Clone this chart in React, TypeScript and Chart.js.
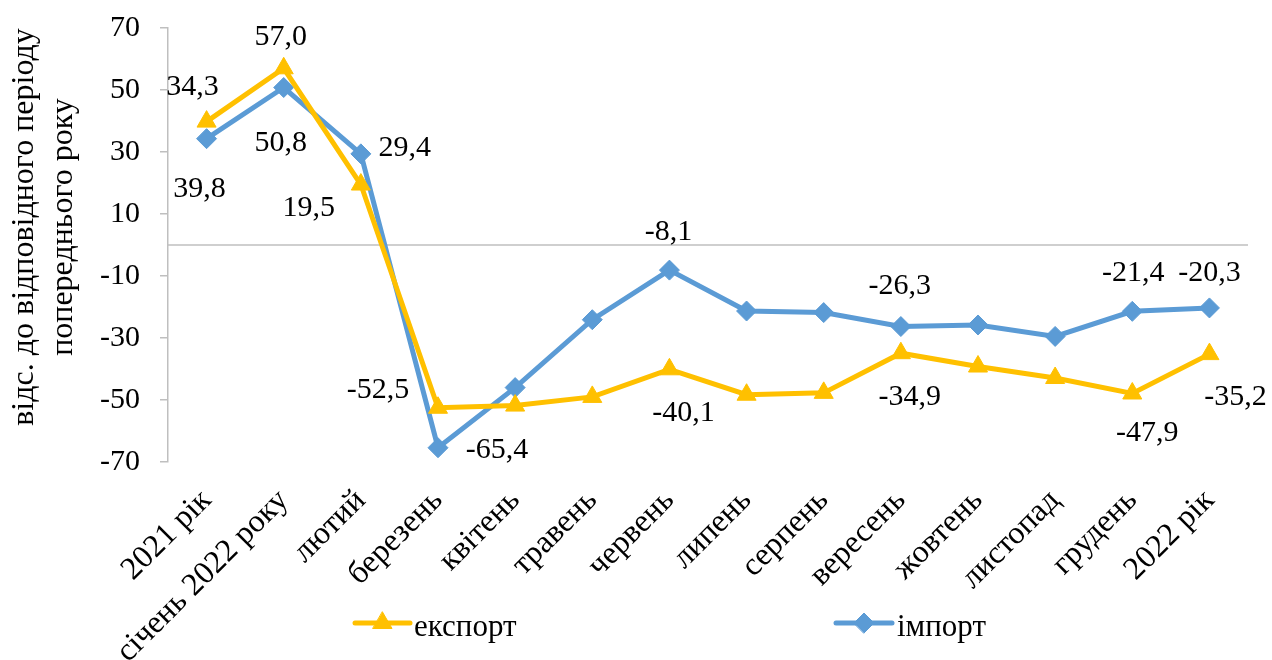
import React, { useEffect, useRef } from "react";
import { Chart, registerables } from "chart.js";
import { drawPoint } from "chart.js/helpers";

Chart.register(...registerables);

// ---- data ----
const categories = [
  "2021 рік",
  "січень 2022 року",
  "лютий",
  "березень",
  "квітень",
  "травень",
  "червень",
  "липень",
  "серпень",
  "вересень",
  "жовтень",
  "листопад",
  "грудень",
  "2022 рік",
];
const exportValues = [39.8, 57.0, 19.5, -52.5, -51.8, -49.0, -40.1, -48.3, -47.7, -34.9, -39.2, -42.9, -47.9, -35.2];
const importValues = [34.3, 50.8, 29.4, -65.4, -46.0, -24.1, -8.1, -21.3, -21.8, -26.3, -25.8, -29.5, -21.4, -20.3];
const yTickValues = [-70, -50, -30, -10, 10, 30, 50, 70];
const yAxisTitle = ["відс. до відповідного періоду", "попереднього року"];
const seriesNames = ["експорт", "імпорт"];
const labeledIndices = [0, 1, 2, 3, 6, 9, 12, 13];

// ---- styling / label placement (offsets from the point, px) ----
const exportLabelOffsets: Record<number, [number, number]> = {
  0: [-7, 68],
  1: [-3, -31],
  2: [-52, 24],
  3: [-60, -18],
  6: [14, 44],
  9: [9, 44],
  12: [15, 40],
  13: [26, 43],
};
const importLabelOffsets: Record<number, [number, number]> = {
  0: [-14, -52],
  1: [-3, 56],
  2: [44, -6],
  3: [59, 2],
  6: [-1, -38],
  9: [-1, -40],
  12: [1, -38],
  13: [0, -35],
};

const FONT = '"Liberation Serif", "Times New Roman", serif';
const TICK_SIZE = 30;
const LABEL_SIZE = 30;
const CAT_SIZE = 32;
const TITLE_SIZE = 32;
const LEGEND_SIZE = 31;
const YELLOW = "#FFC000";
const BLUE = "#5B9BD5";
const GRAY = "#BFBFBF";

const fmt = (v: number) => v.toFixed(1).replace(".", ",");

const customPlugin = {
  id: "custom",
  beforeDatasetsDraw(chart: any) {
    const { ctx, chartArea, scales } = chart;
    const y0 = scales.y.getPixelForValue(0);
    ctx.save();
    ctx.strokeStyle = GRAY;
    ctx.lineWidth = 1.5;
    ctx.beginPath();
    ctx.moveTo(chartArea.left, y0);
    ctx.lineTo(chartArea.right, y0);
    ctx.stroke();
    ctx.restore();
  },
  afterDraw(chart: any) {
    const { ctx, scales } = chart;
    ctx.save();
    ctx.fillStyle = "#000";

    // data labels
    ctx.font = `${LABEL_SIZE}px ${FONT}`;
    ctx.textAlign = "center";
    ctx.textBaseline = "middle";
    const sets: [number[], Record<number, [number, number]>][] = [
      [exportValues, exportLabelOffsets],
      [importValues, importLabelOffsets],
    ];
    sets.forEach(([vals, offs]) => {
      labeledIndices.forEach((i) => {
        const x = scales.x.getPixelForValue(i);
        const y = scales.y.getPixelForValue(vals[i]);
        const [dx, dy] = offs[i];
        ctx.fillText(fmt(vals[i]), x + dx, y + dy);
      });
    });

    // y axis title
    ctx.font = `${TITLE_SIZE}px ${FONT}`;
    ctx.textAlign = "center";
    ctx.textBaseline = "alphabetic";
    const titleX = [33, 72];
    const titleY = 227;
    yAxisTitle.forEach((line, k) => {
      ctx.save();
      ctx.translate(titleX[k], titleY);
      ctx.rotate(-Math.PI / 2);
      ctx.fillText(line, 0, 0);
      ctx.restore();
    });

    // legend
    ctx.font = `${LEGEND_SIZE}px ${FONT}`;
    const legend = [
      { name: seriesNames[0], color: YELLOW, style: "triangle", radius: 11, x0: 355, x1: 410, tx: 414 },
      { name: seriesNames[1], color: BLUE, style: "rectRot", radius: 10, x0: 836, x1: 892, tx: 897 },
    ];
    const ly = 623;
    legend.forEach((it) => {
      ctx.strokeStyle = it.color;
      ctx.lineWidth = 5;
      ctx.lineCap = "round";
      ctx.beginPath();
      ctx.moveTo(it.x0, ly);
      ctx.lineTo(it.x1, ly);
      ctx.stroke();
      ctx.fillStyle = it.color;
      ctx.lineWidth = 1;
      drawPoint(ctx, { pointStyle: it.style, radius: it.radius, rotation: 0, borderWidth: 1 } as any, (it.x0 + it.x1) / 2, ly);
      ctx.fillStyle = "#000";
      ctx.textAlign = "left";
      ctx.textBaseline = "alphabetic";
      ctx.fillText(it.name, it.tx, 636);
    });
    ctx.restore();
  },
};

export default function App() {
  const canvasRef = useRef<HTMLCanvasElement | null>(null);

  useEffect(() => {
    const canvas = canvasRef.current;
    if (!canvas) return;
    const chart = new Chart(canvas, {
      type: "line",
      data: {
        labels: categories,
        datasets: [
          {
            label: seriesNames[0],
            data: exportValues,
            borderColor: YELLOW,
            backgroundColor: YELLOW,
            borderWidth: 5,
            pointStyle: "triangle",
            pointRadius: 11,
            pointBorderWidth: 1,
            pointBackgroundColor: YELLOW,
            pointBorderColor: YELLOW,
            tension: 0,
          },
          {
            label: seriesNames[1],
            data: importValues,
            borderColor: BLUE,
            backgroundColor: BLUE,
            borderWidth: 5,
            pointStyle: "rectRot",
            pointRadius: 10,
            pointBorderWidth: 1,
            pointBackgroundColor: BLUE,
            pointBorderColor: BLUE,
            tension: 0,
          },
        ],
      },
      options: {
        responsive: false,
        animation: false,
        devicePixelRatio: 1,
        layout: { padding: { top: 28, right: 24, left: 0, bottom: 0 } },
        plugins: {
          legend: { display: false },
          tooltip: { enabled: false },
          title: { display: false },
        },
        scales: {
          x: {
            type: "category",
            offset: true,
            grid: { display: false, drawTicks: false },
            border: { display: false },
            ticks: {
              autoSkip: false,
              minRotation: 45,
              maxRotation: 45,
              padding: 20,
              color: "#000",
              font: { family: FONT, size: CAT_SIZE },
            },
            afterFit: (s: any) => {
              s.height = 198;
              s.paddingLeft = 0;
              s.paddingRight = 0;
            },
          },
          y: {
            min: -70,
            max: 70,
            grid: {
              display: true,
              drawOnChartArea: false,
              drawTicks: true,
              tickLength: 8,
              color: GRAY,
              lineWidth: 1.5,
            },
            border: { display: true, color: GRAY, width: 1.5 },
            ticks: {
              padding: 20,
              color: "#000",
              font: { family: FONT, size: TICK_SIZE },
              callback: (v: any) => String(v),
            },
            afterBuildTicks: (s: any) => {
              s.ticks = yTickValues.map((v) => ({ value: v }));
            },
            afterFit: (s: any) => {
              s.width = 168;
              s.paddingTop = 0;
              s.paddingBottom = 0;
            },
          },
        },
      },
      plugins: [customPlugin],
    });
    return () => chart.destroy();
  }, []);

  return (
    <div style={{ position: "absolute", left: 0, top: 0, width: 1272, height: 660, background: "#fff" }}>
      <canvas ref={canvasRef} width={1272} height={660} style={{ display: "block" }} />
    </div>
  );
}
